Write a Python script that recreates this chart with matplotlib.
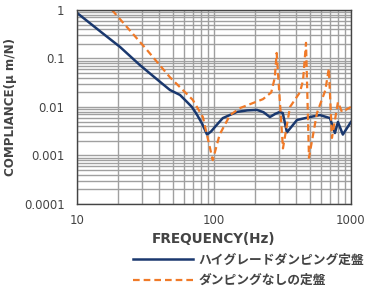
import numpy as np
import matplotlib
matplotlib.use("Agg")
import matplotlib.pyplot as plt
from matplotlib.lines import Line2D

plt.rcParams['font.family'] = ['DejaVu Sans', 'Noto Sans CJK JP']

# high grade damping table (blue)
freq_damped = [10, 15, 20.6, 28.8, 38, 47.7, 56.5, 63, 69, 75, 82, 89, 95, 105, 116, 147,
               175, 206, 230, 256, 280, 302, 318, 341, 404, 502, 594, 703, 764, 804, 873, 1000]
comp_damped = [0.87, 0.35, 0.173, 0.073, 0.038, 0.0224, 0.0177, 0.013, 0.01, 0.007, 0.0045,
               0.0027, 0.0031, 0.0043, 0.0059, 0.0079, 0.0085, 0.0087, 0.0078, 0.0062, 0.0072,
               0.0079, 0.0075, 0.0030, 0.0054, 0.0062, 0.0068, 0.0059, 0.0029, 0.0049, 0.0027,
               0.0049]

# table without damping (orange dashed)
freq_plain = [18, 32.4, 47.7, 70, 83, 98, 110, 131, 155, 228, 262, 278, 287, 319, 359, 424,
              447, 470, 494, 565, 650, 690, 727, 804, 860, 1000]
comp_plain = [1.0, 0.15, 0.041, 0.014, 0.0062, 0.0008, 0.0027, 0.0068, 0.0095, 0.0145, 0.02,
              0.04, 0.13, 0.0014, 0.01, 0.02, 0.035, 0.21, 0.0009, 0.0075, 0.022, 0.062,
              0.0023, 0.0126, 0.0079, 0.01]

legend_labels = ["ハイグレードダンピング定盤", "ダンピングなしの定盤"]
blue = "#1a386e"
orange = "#f07a28"
txt = "#444444"

fig = plt.figure(figsize=(3.69, 2.93), dpi=100)
ax = fig.add_axes([0.2087, 0.3038, 0.7423, 0.6622])

ax.set_xscale("log")
ax.set_yscale("log")
ax.set_xlim(10, 1000)
ax.set_ylim(0.0001, 1)

ax.grid(True, which="both", color="#a0a0a0", linewidth=1.0)
ax.set_axisbelow(True)

ax.plot(freq_damped, comp_damped, color=blue, linewidth=1.8)
ax.plot(freq_plain, comp_plain, color=orange, linewidth=1.6, dashes=(3, 1.8))

ax.set_xticks([10, 100, 1000])
ax.set_xticklabels(["10", "100", "1000"])
ax.set_yticks([1, 0.1, 0.01, 0.001, 0.0001])
ax.set_yticklabels(["1", "0.1", "0.01", "0.001", "0.0001"])
ax.tick_params(which="both", length=0, labelsize=8.5, colors=txt)
ax.tick_params(axis="x", pad=7)
ax.tick_params(axis="y", pad=9)

for s in ax.spines.values():
    s.set_color("#444444")
    s.set_linewidth(1.0)

ax.set_xlabel("FREQUENCY(Hz)", fontsize=9.8, fontweight="bold", color=txt, labelpad=4)
ax.set_ylabel("COMPLIANCE(μ m/N)", fontsize=8.6, fontweight="bold", color=txt, labelpad=5)

handles = [Line2D([], [], color=blue, linewidth=1.8),
           Line2D([], [], color=orange, linewidth=1.6, dashes=(3, 1.8))]
fig.legend(handles, legend_labels, loc="upper left", bbox_to_anchor=(0.36, 0.135),
           frameon=False, prop={"family": ["Noto Sans CJK JP"], "size": 9.2, "weight": "bold"},
           handlelength=4.7, handletextpad=0.45, labelspacing=0.6, labelcolor=txt,
           borderaxespad=0, borderpad=0)

fig.savefig("out.png", dpi=100)
